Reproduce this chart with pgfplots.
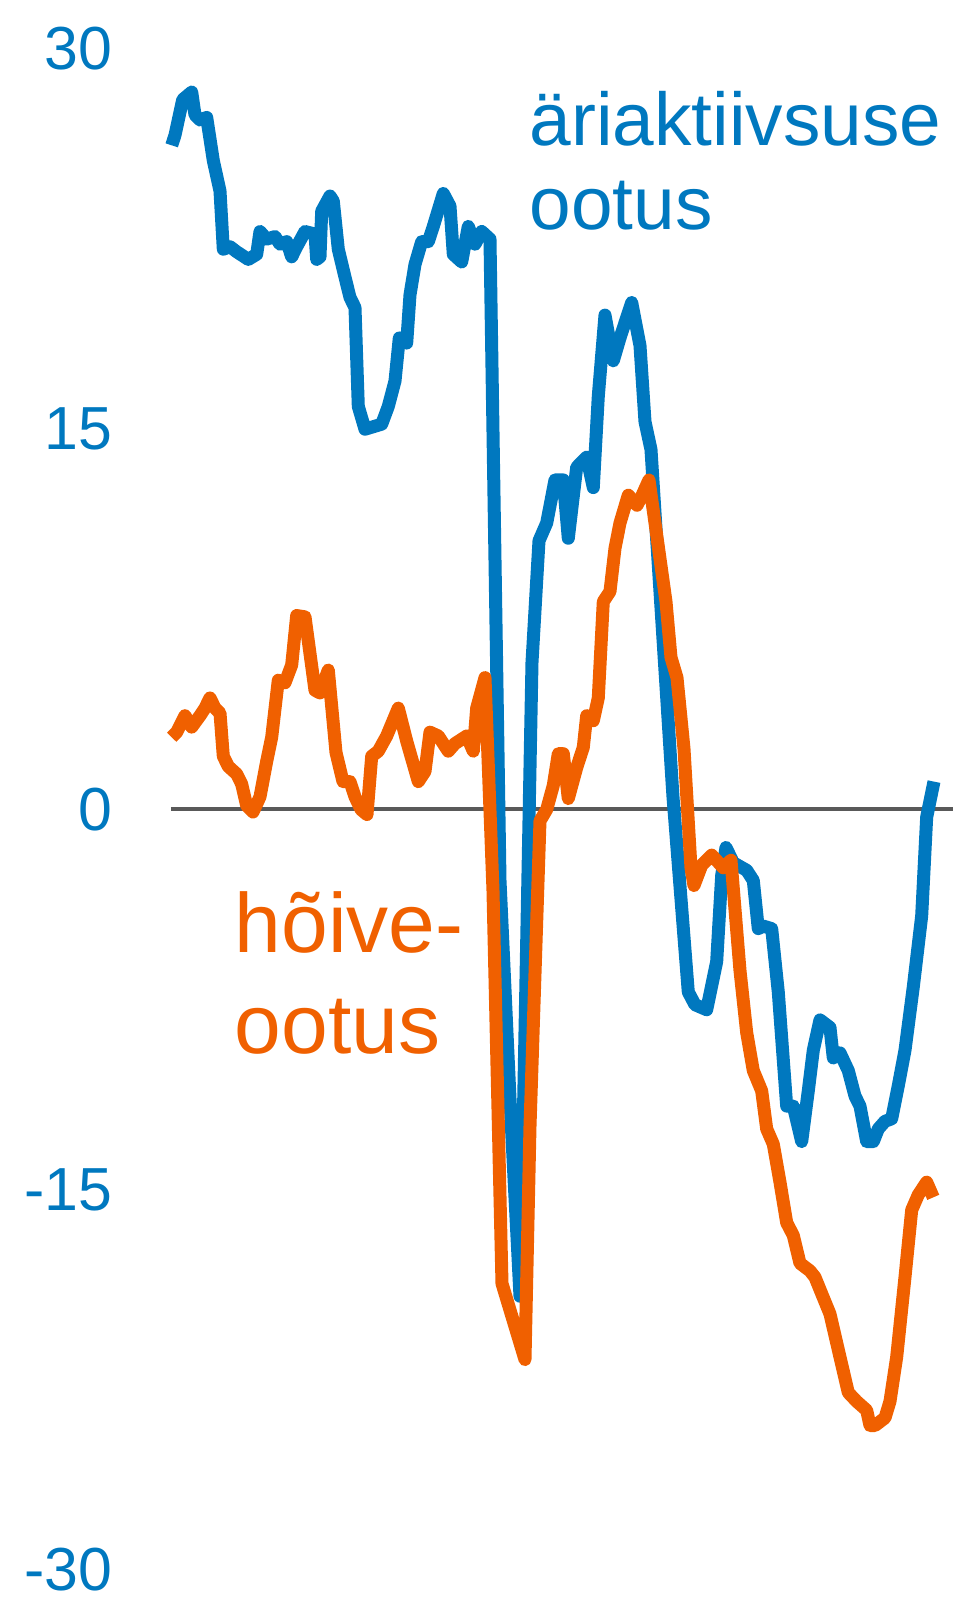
\documentclass[border=0pt]{standalone}
\usepackage{fontspec}
\setmainfont{Liberation Sans}
\usepackage{pgfplots}
\pgfplotsset{compat=1.18}
\definecolor{ebblue}{HTML}{0078BF}
\definecolor{eborange}{HTML}{F06000}
\definecolor{zerogray}{HTML}{595959}

% 1 px of the reference = 0.25bp
\begin{document}
\begin{tikzpicture}
\useasboundingbox (-42.75bp,-7bp) rectangle (195.5bp,392.5bp);
\begin{axis}[
  at={(0,0)}, anchor=south west,
  scale only axis, width=195.5bp, height=380.25bp,
  xmin=171, xmax=953, ymin=-30, ymax=30,
  clip=false,
  axis line style={draw=none},
  xtick=\empty,
  ytick={-30,-15,0,15,30},
  yticklabels={-30,-15,0,15,30},
  major tick length=0pt,
  yticklabel style={font=\fontsize{15.2bp}{17bp}\selectfont, text=ebblue,
                    anchor=east, inner sep=0pt, xshift=-14.5bp},
  line join=round,
]
\addplot[draw=zerogray, line width=1bp] coordinates {(171,0) (953,0)};
% business activity expectation
\addplot[draw=ebblue, line width=3.25bp] coordinates {
(171.7,26.2) (175,26.6) (182.7,28.0) (191.7,28.3) (195,27.4) (200,27.2) (206.7,27.3)
(213.3,25.6) (220,24.4) (223.3,22.1) (230,22.2) (236.7,22.0) (248.3,21.7) (256.7,21.9)
(260,22.8) (266.7,22.5) (275,22.6) (280,22.3) (286.7,22.4) (291.7,21.8) (296.7,22.2)
(305,22.8) (315,22.7) (316.7,21.7) (320,21.8) (321.7,23.6) (330,24.2) (333.3,24.0)
(338.3,22.1) (345,21.0) (350,20.2) (355,19.8) (358.3,15.9) (365,15.0) (373.3,15.1)
(381.7,15.2) (388.3,15.9) (395,16.9) (399.3,18.6) (406.7,18.4) (410,20.3) (415,21.5)
(421.7,22.4) (428.3,22.4) (433.3,23.0) (443.3,24.3) (450,23.8) (453.3,21.9) (461.7,21.6)
(468.3,23.0) (475,22.3) (481.7,22.8) (490,22.5) (500,-2.8) (510,-11.4) (520,-19.2)
(532,5.8) (539,10.6) (546.7,11.3) (555,13.0) (563.3,13.0) (568.3,10.7) (576.7,13.5)
(586.7,13.9) (593.3,12.7) (598.3,16.3) (605,19.5) (613.3,17.7) (620,18.6) (631.7,20.0)
(640,18.3) (645,15.3) (651,14.2) (673,0.5) (688.3,-7.2) (695,-7.7) (706.7,-7.9) (716.7,-6.0)
(721.7,-2.6) (726,-1.5) (733.3,-2.1) (746.7,-2.4) (753.3,-2.8) (758.3,-4.7) (763.3,-4.6)
(771.7,-4.7) (778.3,-7.2) (786.7,-11.7) (793.3,-11.7) (801.7,-13.1) (808.3,-11.1)
(813.3,-9.5) (820,-8.3) (830,-8.6) (833.3,-9.8) (840,-9.6) (848.3,-10.3) (855,-11.3)
(860,-11.7) (866.7,-13.1) (873.3,-13.1) (878.3,-12.6) (885,-12.3) (891.7,-12.2)
(898.3,-10.9) (905,-9.5) (913.3,-7.0) (921.7,-4.2) (926.7,-0.3) (934,1.1)
};
% employment expectation
\addplot[draw=eborange, line width=3.25bp] coordinates {
(171.7,2.85) (176.7,3.05) (185,3.7) (191.7,3.25) (200,3.7) (205,4.0) (210,4.4) (215,4.0)
(220,3.8) (223.3,2.1) (228.3,1.7) (236.7,1.4) (241.7,1.0) (246.7,0.15) (253,-0.1)
(260,0.5) (266.7,1.9) (271.7,2.85) (278.3,5.1) (285,5.0) (291.7,5.7) (296.7,7.65)
(305,7.6) (315,4.7) (320,4.6) (328.3,5.5) (336,2.25) (343,1.1) (350,1.1) (355,0.5)
(361,0.0) (367,-0.2) (371.7,2.1) (378.3,2.3) (386.7,2.9) (398.3,4.0) (406.7,2.7)
(418.3,1.1) (425,1.5) (430,3.05) (438.3,2.9) (448.3,2.3) (455,2.6) (466.7,2.9)
(473.3,2.3) (476.7,4.0) (485,5.2) (493,-3.2) (502,-18.7) (525,-21.7) (530,-12.5)
(540,-0.45) (546.7,0.0) (553.3,0.95) (558.3,2.2) (563.3,2.2) (568.3,0.43) (576.7,1.65)
(583.3,2.45) (586.7,3.7) (593.3,3.5) (598.3,4.4) (603.3,8.2) (610,8.6) (615,10.3)
(620,11.3) (628.3,12.4) (637,12.0) (641,12.3) (649,13.0) (666,8.2) (671,6.0)
(677,5.2) (684,2.4) (691,-2.3) (694,-3.0) (701.7,-2.2) (711.7,-1.8) (723.3,-2.3)
(731,-2.0) (740,-6.35) (746.7,-8.8) (753.3,-10.3) (761.7,-11.1) (766.7,-12.6)
(773.3,-13.2) (780,-14.7) (786.7,-16.3) (793.3,-16.8) (800,-17.9) (810,-18.2)
(815,-18.45) (821.7,-19.1) (830,-19.9) (840,-21.6) (848.3,-23.0) (856.7,-23.35)
(866.7,-23.7) (870,-24.3) (875,-24.3) (885,-24.0) (890,-23.35) (896.7,-21.6)
(905,-18.45) (911.7,-15.8) (918.3,-15.2) (926.7,-14.7) (933.3,-15.3)
};
\node[anchor=base west, inner sep=0pt, text=ebblue, font=\fontsize{18.7bp}{21.25bp}\selectfont]
  at (axis cs:529,26.21) {äriaktiivsuse};
\node[anchor=base west, inner sep=0pt, text=ebblue, font=\fontsize{18.7bp}{21.25bp}\selectfont]
  at (axis cs:529,22.86) {ootus};
\node[anchor=base west, inner sep=0pt, text=eborange, font=\fontsize{21bp}{25bp}\selectfont]
  at (axis cs:234,-5.65) {hõive-};
\node[anchor=base west, inner sep=0pt, text=eborange, font=\fontsize{21bp}{25bp}\selectfont]
  at (axis cs:234,-9.61) {ootus};
\end{axis}
\end{tikzpicture}
\end{document}
